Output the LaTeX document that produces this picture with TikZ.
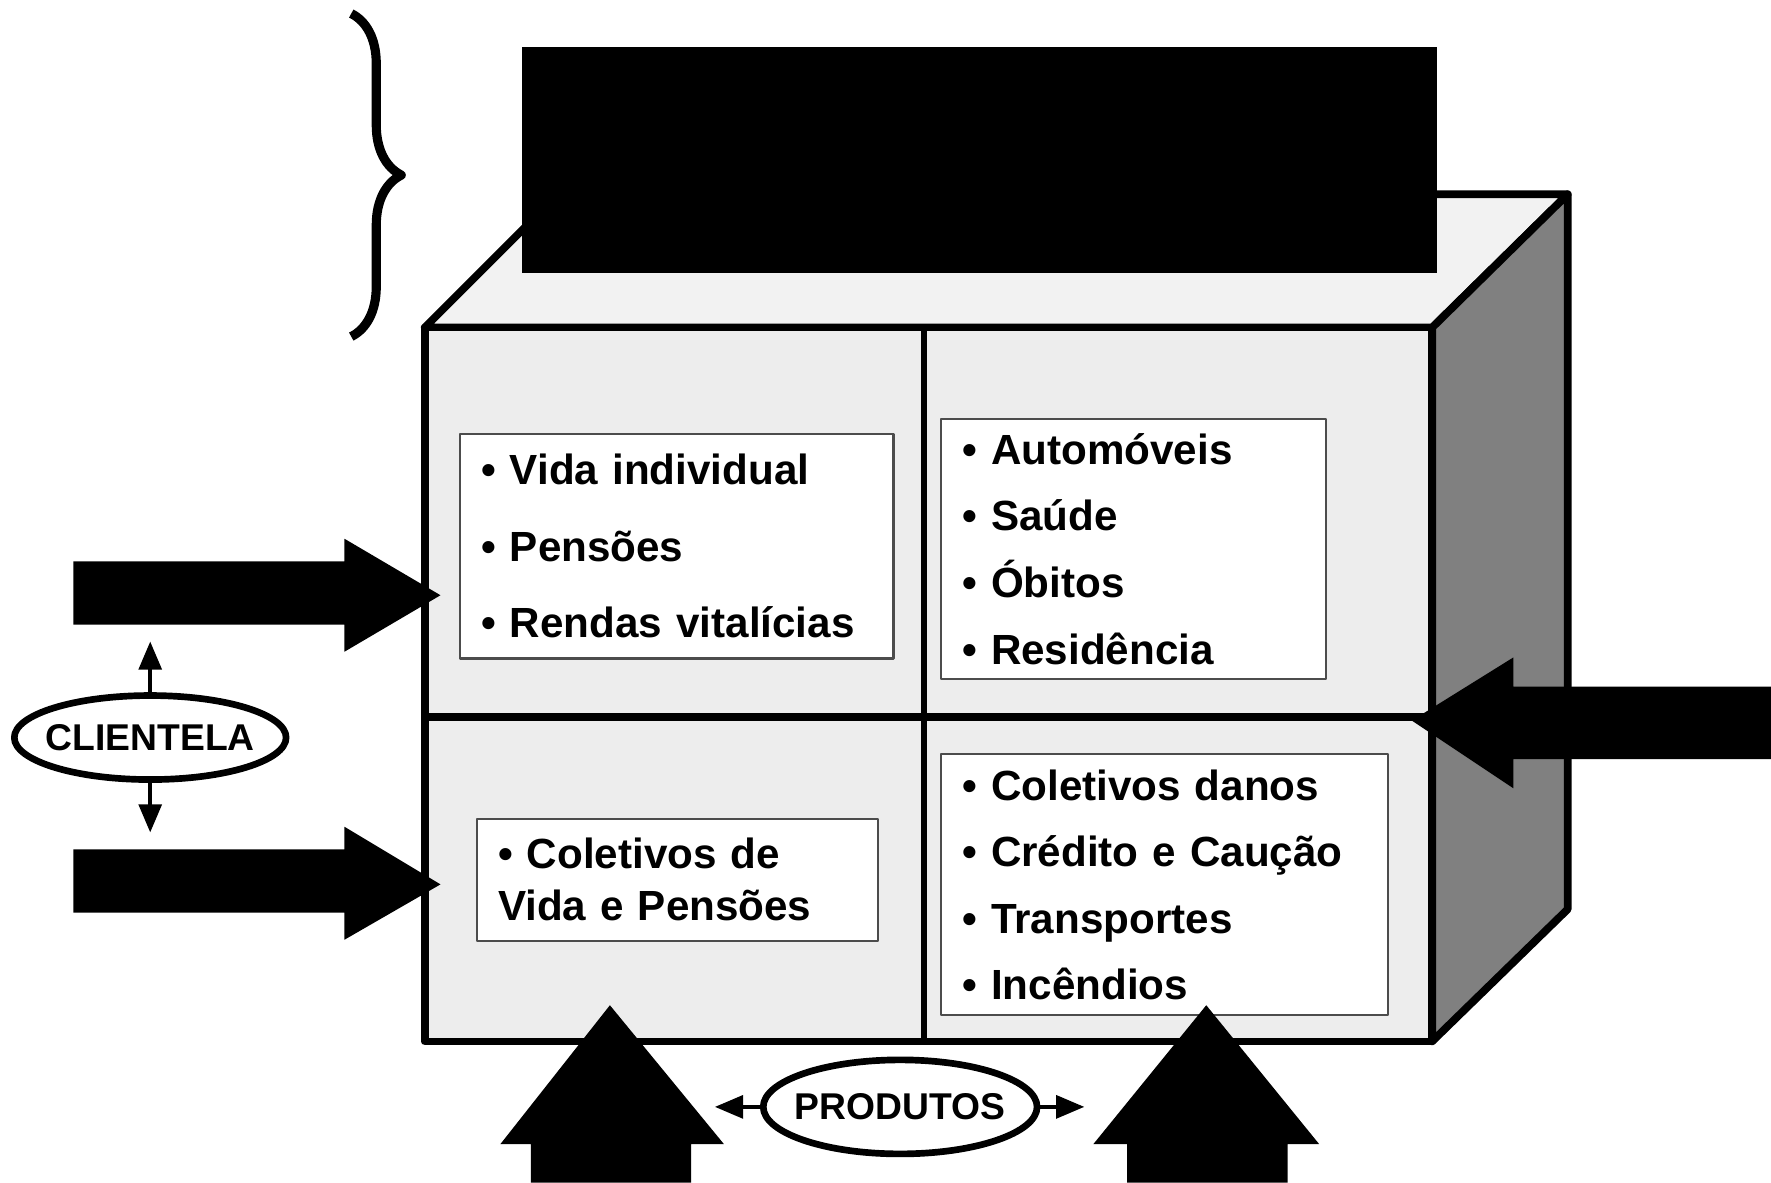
\documentclass[tikz,border=0pt]{standalone}
\usepackage{fontspec}
\setmainfont{Liberation Sans}
\usepackage{tikz}
\usetikzlibrary{arrows.meta,shapes.geometric,decorations.pathreplacing}

\begin{document}
\begin{tikzpicture}[x=0.011295cm, y=-0.011295cm, line join=round,
    >={Triangle[width=6.5pt,length=8pt]},
    edgeline/.style={line width=2.2pt},
    itembox/.style={draw=gray!60!black, line width=0.6pt, fill=white, anchor=north west,
      inner xsep=0.2146cm, inner ysep=0pt, align=left},
    tag/.style={ellipse, draw, line width=1.9pt, fill=white, inner xsep=-2.4pt, inner ysep=0pt,
      font=\bfseries\fontsize{10.6}{12}\selectfont},
    smallarrow/.style={->, line width=1pt},
    blockarrow/.style={fill=black}]
  \useasboundingbox (0,0) rectangle (1568,1047);
  % cube
  \filldraw[edgeline, fill=black!5] (376,290) -- (494,172) -- (1388,172) -- (1268,290) -- cycle;
  \filldraw[edgeline, fill=black!50] (1268,290) -- (1388,172) -- (1388,805) -- (1268,922) -- cycle;
  \filldraw[edgeline, fill=black!7] (376,290) rectangle (1268,922);
  \draw[line width=1.6pt] (818,292) -- (818,920);
  \draw[edgeline] (376,635) -- (1268,635);
  % text boxes
  \node[itembox, text width=3.908cm, minimum height=2.248cm,
    font=\bfseries\fontsize{12}{21.85}\selectfont] (vida) at (406,383)
    {• Vida individual\\• Pensões\\• Rendas vitalícias};
  \node[itembox, text width=3.422cm, minimum height=2.598cm,
    font=\bfseries\fontsize{12}{18.96}\selectfont] (naovida) at (832,370)
    {• Automóveis\\• Saúde\\• Óbitos\\• Residência};
  \node[itembox, text width=3.58cm, minimum height=1.22cm,
    font=\bfseries\fontsize{12}{14.8}\selectfont] (cvida) at (421,724)
    {• Coletivos de\\Vida e Pensões};
  \node[itembox, text width=4.044cm, minimum height=2.609cm,
    font=\bfseries\fontsize{12}{18.96}\selectfont] (cdanos) at (832,667)
    {• Coletivos danos\\• Crédito e Caução\\• Transportes\\• Incêndios};
  % top block
  \fill (462,42) rectangle (1272,242);
  \draw[line width=2.6pt, decorate, decoration={brace, amplitude=0.5cm}] (311,12) -- (311,298);
  % big arrows
  \fill[blockarrow] (1568,608) -- (1340,608) -- (1340,582) -- (1250,638) -- (1340,698) -- (1340,672) -- (1568,672) -- cycle;
  \fill[blockarrow] (65,497) -- (305,497) -- (305,477) -- (390,527) -- (305,577) -- (305,553) -- (65,553) -- cycle;
  \fill[blockarrow] (65,752) -- (305,752) -- (305,732) -- (390,783) -- (305,832) -- (305,808) -- (65,808) -- cycle;
  \fill[blockarrow] (470,1047) -- (470,1013) -- (443,1013) -- (540,890) -- (641,1013) -- (612,1013) -- (612,1047) -- cycle;
  \fill[blockarrow] (998,1047) -- (998,1013) -- (968,1013) -- (1068,890) -- (1168,1013) -- (1140,1013) -- (1140,1047) -- cycle;
  % labels
  \node[tag, minimum height=0.84cm] (clientela) at (133,653) {CLIENTELA};
  \node[tag, minimum height=0.94cm] (produtos) at (797,980) {PRODUTOS};
  \coordinate (cl-up) at (133,568);
  \coordinate (cl-down) at (133,737);
  \coordinate (pr-left) at (633,980);
  \coordinate (pr-right) at (960,980);
  \draw[smallarrow] (clientela.north) -- (cl-up);
  \draw[smallarrow] (clientela.south) -- (cl-down);
  \draw[smallarrow] (produtos.west) -- (pr-left);
  \draw[smallarrow] (produtos.east) -- (pr-right);
\end{tikzpicture}
\end{document}
